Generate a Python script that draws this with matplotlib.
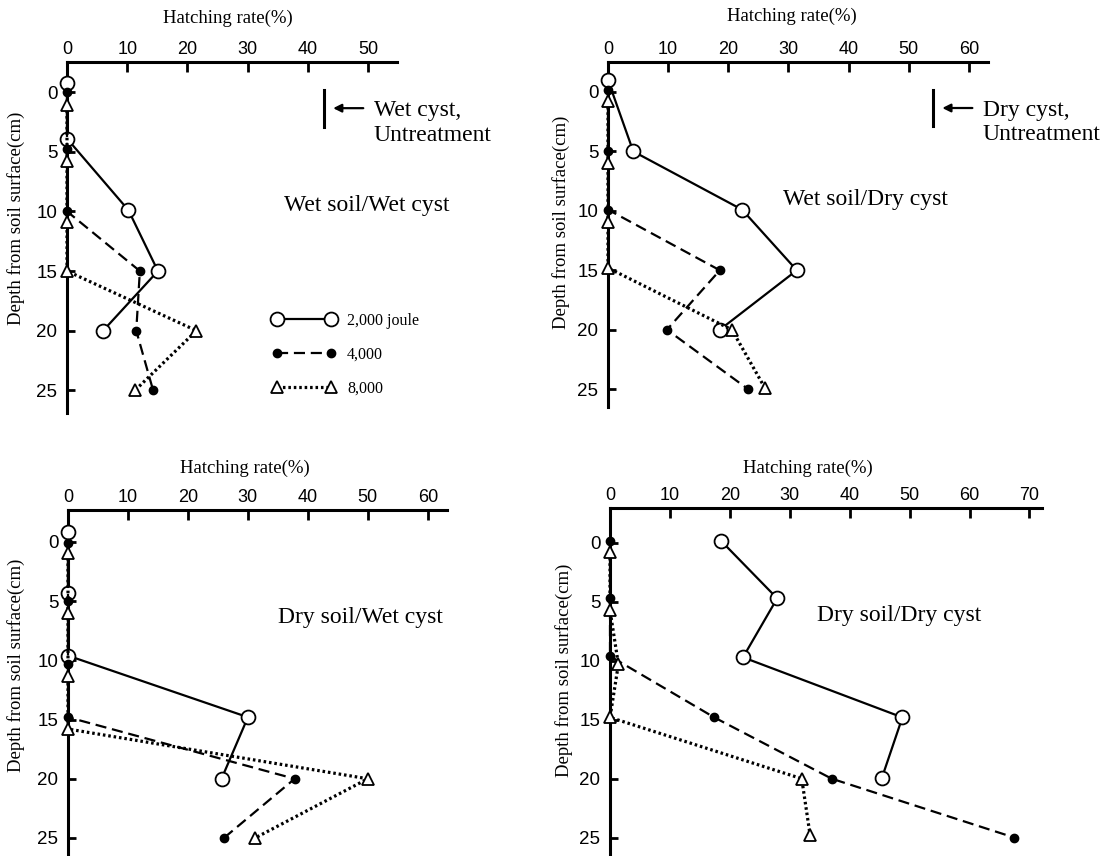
import matplotlib
matplotlib.use("Agg")
from matplotlib import pyplot as plt
from matplotlib.lines import Line2D

# depth (cm) and hatching rate (%)
# small depth offsets keep the overlapping zero points apart, as in the original
depthTicks = [0, 5, 10, 15, 20, 25]
seriesNames = ["2,000 joule", "4,000", "8,000"]
panelNames = ["Wet soil/Wet cyst", "Wet soil/Dry cyst", "Dry soil/Wet cyst", "Dry soil/Dry cyst"]

# Wet soil / Wet cyst
ww_d2000 = [-0.8, 3.9, 9.9, 15, 20]
ww_r2000 = [0, 0, 10.2, 15.1, 6.0]
ww_d4000 = [0, 4.8, 10, 15, 20, 25]
ww_r4000 = [0, 0, 0, 12.1, 11.5, 14.3]
ww_d8000 = [1.1, 5.8, 10.9, 15, 20, 25]
ww_r8000 = [0, 0, 0, 0, 21.5, 11.3]

# Wet soil / Dry cyst
wd_d2000 = [-1.0, 5, 9.9, 15, 20]
wd_r2000 = [0, 4.2, 22.3, 31.4, 18.6]
wd_d4000 = [-0.2, 5, 9.9, 15, 20, 25]
wd_r4000 = [0, 0, 0, 18.6, 9.8, 23.3]
wd_d8000 = [0.8, 6, 10.9, 14.8, 20, 24.9]
wd_r8000 = [0, 0, 0, 0, 20.6, 26.1]

# Dry soil / Wet cyst
dw_d2000 = [-0.8, 4.3, 9.6, 14.8, 20]
dw_r2000 = [0, 0, 0, 30.0, 25.6]
dw_d4000 = [0.1, 5, 10.3, 14.8, 20, 25]
dw_r4000 = [0, 0, 0, 0, 37.8, 26.0]
dw_d8000 = [0.9, 6, 11.3, 15.8, 20, 25]
dw_r8000 = [0, 0, 0, 0, 50.0, 31.2]

# Dry soil / Dry cyst
dd_d2000 = [-0.2, 4.7, 9.7, 14.8, 19.9]
dd_r2000 = [18.5, 27.9, 22.2, 48.8, 45.4]
dd_d4000 = [-0.2, 4.7, 9.6, 14.8, 20, 25]
dd_r4000 = [0, 0, 0, 17.4, 37.0, 67.5]
dd_d8000 = [0.8, 5.7, 10.3, 14.8, 20, 24.8]
dd_r8000 = [0, 0, 1.4, 0, 32.0, 33.4]

# untreated control level (%)
untreatWet = 42.7
untreatDry = 54.1

W, H = 1112, 856
SERIF = ["Liberation Serif", "DejaVu Serif"]
SANS = ["Liberation Sans", "DejaVu Sans"]

fig = plt.figure(figsize=(W / 100, H / 100), dpi=100)


def px_axes(left, top, right, bottom):
    return fig.add_axes([left / W, 1 - bottom / H, (right - left) / W, (bottom - top) / H])


def px_text(x, y, s, **kw):
    return fig.text(x / W, 1 - y / H, s, **kw)


# series styles
styles = [
    dict(color="black", lw=1.6, ls="-", marker="o", ms=10, mfc="white", mec="black", mew=1.3),
    dict(color="black", lw=1.6, ls=(0, (5, 2.6)), marker="o", ms=6, mfc="black", mec="black"),
    dict(color="black", lw=2.3, ls=(0, (0.8, 0.9)), marker="^", ms=9, mfc="white", mec="black", mew=1.3,
         dash_capstyle="butt"),
]

panels = [
    dict(box=(67, 62, 397, 413), xmax=54.8, ylim=(26.9, -2.52), ticks=range(0, 51, 10),
         data=[(ww_d2000, ww_r2000), (ww_d4000, ww_r4000), (ww_d8000, ww_r8000)],
         name_xy=(284, 205), ylab=(16, 218), title=(228, 18)),
    dict(box=(608, 62, 988, 407), xmax=63.2, ylim=(26.5, -2.52), ticks=range(0, 61, 10),
         data=[(wd_d2000, wd_r2000), (wd_d4000, wd_r4000), (wd_d8000, wd_r8000)],
         name_xy=(783, 200), ylab=(561, 222), title=(792, 16)),
    dict(box=(68, 510, 447, 860), xmax=63.2, ylim=(26.86, -2.7), ticks=range(0, 61, 10),
         data=[(dw_d2000, dw_r2000), (dw_d4000, dw_r4000), (dw_d8000, dw_r8000)],
         name_xy=(278, 617), ylab=(16, 665), title=(245, 468)),
    dict(box=(610, 508, 1042, 860), xmax=72.1, ylim=(26.9, -2.97), ticks=range(0, 71, 10),
         data=[(dd_d2000, dd_r2000), (dd_d4000, dd_r4000), (dd_d8000, dd_r8000)],
         name_xy=(817, 615), ylab=(564, 670), title=(808, 468)),
]

axes = []
for p, name in zip(panels, panelNames):
    ax = px_axes(*p["box"])
    axes.append(ax)
    for (d, r), st in zip(p["data"], styles):
        ax.plot(r, d, clip_on=False, zorder=3, **st)
    ax.set_xlim(0, p["xmax"])
    ax.set_ylim(*p["ylim"])
    ax.set_xticks(list(p["ticks"]))
    ax.set_yticks(depthTicks)
    ax.xaxis.tick_top()
    for s in ["right", "bottom"]:
        ax.spines[s].set_visible(False)
    for s in ["left", "top"]:
        ax.spines[s].set_linewidth(2.2)
    ax.tick_params(axis="x", direction="in", length=7, width=2, pad=3, labelsize=13)
    ax.tick_params(axis="y", direction="in", length=6, width=2, pad=7, labelsize=13.5)
    for lab in ax.get_xticklabels() + ax.get_yticklabels():
        lab.set_family(SANS)
    ax.patch.set_alpha(0)
    px_text(*p["title"], "Hatching rate(%)", family=SERIF, fontsize=13.5, ha="center", va="center")
    px_text(*p["name_xy"], name, family=SERIF, fontsize=17, ha="left", va="center")
    px_text(*p["ylab"], "Depth from soil surface(cm)", family=SERIF, fontsize=13.5, rotation=90,
            ha="center", va="center")

# untreated control markers
for ax, level, label in [(axes[0], untreatWet, "Wet cyst,\nUntreatment"),
                         (axes[1], untreatDry, "Dry cyst,\nUntreatment")]:
    ax.plot([level, level], [-0.2, 2.9], color="black", lw=2.2, clip_on=False)
    ax.annotate("", xy=(level + 1.5, 1.35), xytext=(level + 6.5, 1.35),
                arrowprops=dict(arrowstyle="-|>", color="black", lw=1.6, mutation_scale=12,
                                shrinkA=0, shrinkB=0),
                annotation_clip=False)
    ax.text(level + 8.2, 2.6, label, family=SERIF, fontsize=17, ha="left", va="center",
            linespacing=1.2)

# legend in the first panel
handles = [Line2D([], [], **st) for st in styles]
leg = axes[0].legend(handles, seriesNames, numpoints=2, frameon=False, handlelength=4.0,
                     handletextpad=0.7, labelspacing=1.12, borderpad=0, borderaxespad=0,
                     prop={"family": SERIF, "size": 11.5},
                     loc="upper left", bbox_to_anchor=(272 / W, 1 - 313 / H),
                     bbox_transform=fig.transFigure)

fig.savefig("out.png", dpi=100)
